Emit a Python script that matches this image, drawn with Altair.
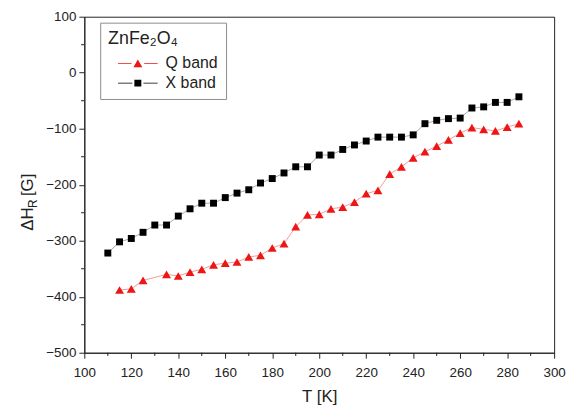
import altair as alt
import pandas as pd

# ---- data ----
T_x = [110, 115, 120, 125, 130, 135, 140, 145, 150, 155, 160, 165, 170, 175, 180, 185, 190, 195,
       200, 205, 210, 215, 220, 225, 230, 235, 240, 245, 250, 255, 260, 265, 270, 275, 280, 285]
H_x = [-322, -302, -296, -285, -272, -272, -256, -243, -233, -233, -223, -215, -209, -197, -189, -179, -168, -168,
       -147, -147, -137, -129, -122, -115, -115, -115, -111, -91, -85, -82, -81, -63, -61, -53, -53, -43]

T_q = [115, 120, 125, 135, 140, 145, 150, 155, 160, 165, 170, 175, 180, 185, 190, 195, 200,
       205, 210, 215, 220, 225, 230, 235, 240, 245, 250, 255, 260, 265, 270, 275, 280, 285]
H_q = [-388, -386, -371, -360, -363, -356, -351, -343, -340, -338, -329, -326, -313, -305, -275, -254, -253,
       -243, -240, -231, -216, -210, -181, -168, -152, -141, -131, -120, -108, -98, -101, -104, -97, -91]

series_names = ["Q band", "X band"]
x_ticks = [100, 120, 140, 160, 180, 200, 220, 240, 260, 280, 300]
x_minor = [110, 130, 150, 170, 190, 210, 230, 250, 270, 290]
y_ticks = [-500, -400, -300, -200, -100, 0, 100]
y_minor = [-450, -350, -250, -150, -50, 50]

FONT = "Arial, Liberation Sans"
W, H = 474, 339

df = pd.concat([
    pd.DataFrame({"T": T_q, "H": H_q, "series": series_names[0]}),
    pd.DataFrame({"T": T_x, "H": H_x, "series": series_names[1]}),
], ignore_index=True)

xs = alt.Scale(domain=[100, 300], nice=False, zero=False)
ys = alt.Scale(domain=[-500, 100], nice=False, zero=False)

x_axis = alt.Axis(values=x_ticks, title="T [K]", grid=False, tickSize=5.5, labelFontSize=13.5,
                  titleFontSize=17, titleFontWeight="normal", labelPadding=7, titlePadding=10,
                  labelFont=FONT, titleFont=FONT, labelColor="#222", titleColor="#222",
                  domainColor="#222", tickColor="#222", labelFlush=False, format="d")
y_axis = alt.Axis(values=y_ticks, title=None, grid=False, tickSize=5.5, labelFontSize=13.5,
                  labelPadding=3, labelFont=FONT, labelColor="#222", domainColor="#222",
                  tickColor="#222", labelFlush=False, format="d")

base = alt.Chart(df).encode(
    x=alt.X("T:Q", scale=xs, axis=x_axis),
    y=alt.Y("H:Q", scale=ys, axis=y_axis),
)
q_only = base.transform_filter(alt.datum.series == series_names[0])
x_only = base.transform_filter(alt.datum.series == series_names[1])

line_q = q_only.mark_line(strokeWidth=1, color="#f39a9a")
line_x = x_only.mark_line(strokeWidth=1, color="#a8a8a8")
pts_q = q_only.mark_point(filled=True, shape="triangle-up", size=81, color="#ee1515", opacity=1)
pts_x = x_only.mark_point(filled=True, shape="square", size=49, color="#000000", opacity=1)

path_q = "M-5,-0.1H-1.6V0.1H-5Z M1.6,-0.1H5V0.1H1.6Z M0,-0.97L1.125,0.97L-1.125,0.97Z"
path_x = "M-5,-0.1H-1.4V0.1H-5Z M1.4,-0.1H5V0.1H1.4Z M-0.875,-0.875H0.875V0.875H-0.875Z"

leg = alt.Legend(title="ZnFe₂O₄", orient="none", legendX=16, legendY=6, padding=8,
                 strokeColor="#8c8c8c", fillColor="white", titleFont=FONT, titleFontSize=18,
                 titleFontWeight="normal", titleColor="#222", titlePadding=7, labelFont=FONT,
                 labelFontSize=16, labelColor="#222", symbolSize=64, symbolOffset=22, labelOffset=20,
                 symbolOpacity=1, symbolStrokeWidth=0, rowPadding=4,
                 labelExpr="datum.label + '   '")

legend_layer = base.mark_point(filled=True, opacity=0).encode(
    shape=alt.Shape("series:N", scale=alt.Scale(domain=series_names, range=[path_q, path_x]), legend=leg),
    color=alt.Color("series:N", scale=alt.Scale(domain=series_names, range=["#ee1515", "#000000"]), legend=leg),
)

# minor ticks
minor_x = alt.Chart(pd.DataFrame({"T": x_minor})).mark_rule(color="#222", strokeWidth=1).encode(
    x=alt.X("T:Q", scale=xs), y=alt.value(H), y2=alt.value(H + 3.3))
minor_y = alt.Chart(pd.DataFrame({"H": y_minor})).mark_rule(color="#222", strokeWidth=1).encode(
    y=alt.Y("H:Q", scale=ys), x=alt.value(0), x2=alt.value(-3.3))

# y-axis title with subscript: ΔH_R [G]
one = pd.DataFrame({"k": [0]})
yt1 = alt.Chart(one).mark_text(text="ΔH", angle=270, align="left", baseline="alphabetic",
                               font=FONT, fontSize=17, color="#222").encode(
    x=alt.value(-52), y=alt.value(216))
yt2 = alt.Chart(one).mark_text(text="R", angle=270, align="left", baseline="alphabetic",
                               font=FONT, fontSize=12, color="#222").encode(
    x=alt.value(-48), y=alt.value(193))
yt3 = alt.Chart(one).mark_text(text="[G]", angle=270, align="left", baseline="alphabetic",
                               font=FONT, fontSize=17, color="#222").encode(
    x=alt.value(-52), y=alt.value(181))

chart = alt.layer(line_q, line_x, pts_x, pts_q, legend_layer, minor_x, minor_y, yt1, yt2, yt3).properties(
    width=W, height=H,
    autosize=alt.AutoSizeParams(type="none"),
    padding={"left": 77, "top": 7, "right": 16, "bottom": 57},
    background="white",
).configure_view(stroke="#222", strokeWidth=1).configure_legend(
    titleFontSize=18, titleFontWeight="normal", titleFont=FONT, labelFontSize=16
)

chart.save("out.html", embed_options={"renderer": "svg", "actions": False})
